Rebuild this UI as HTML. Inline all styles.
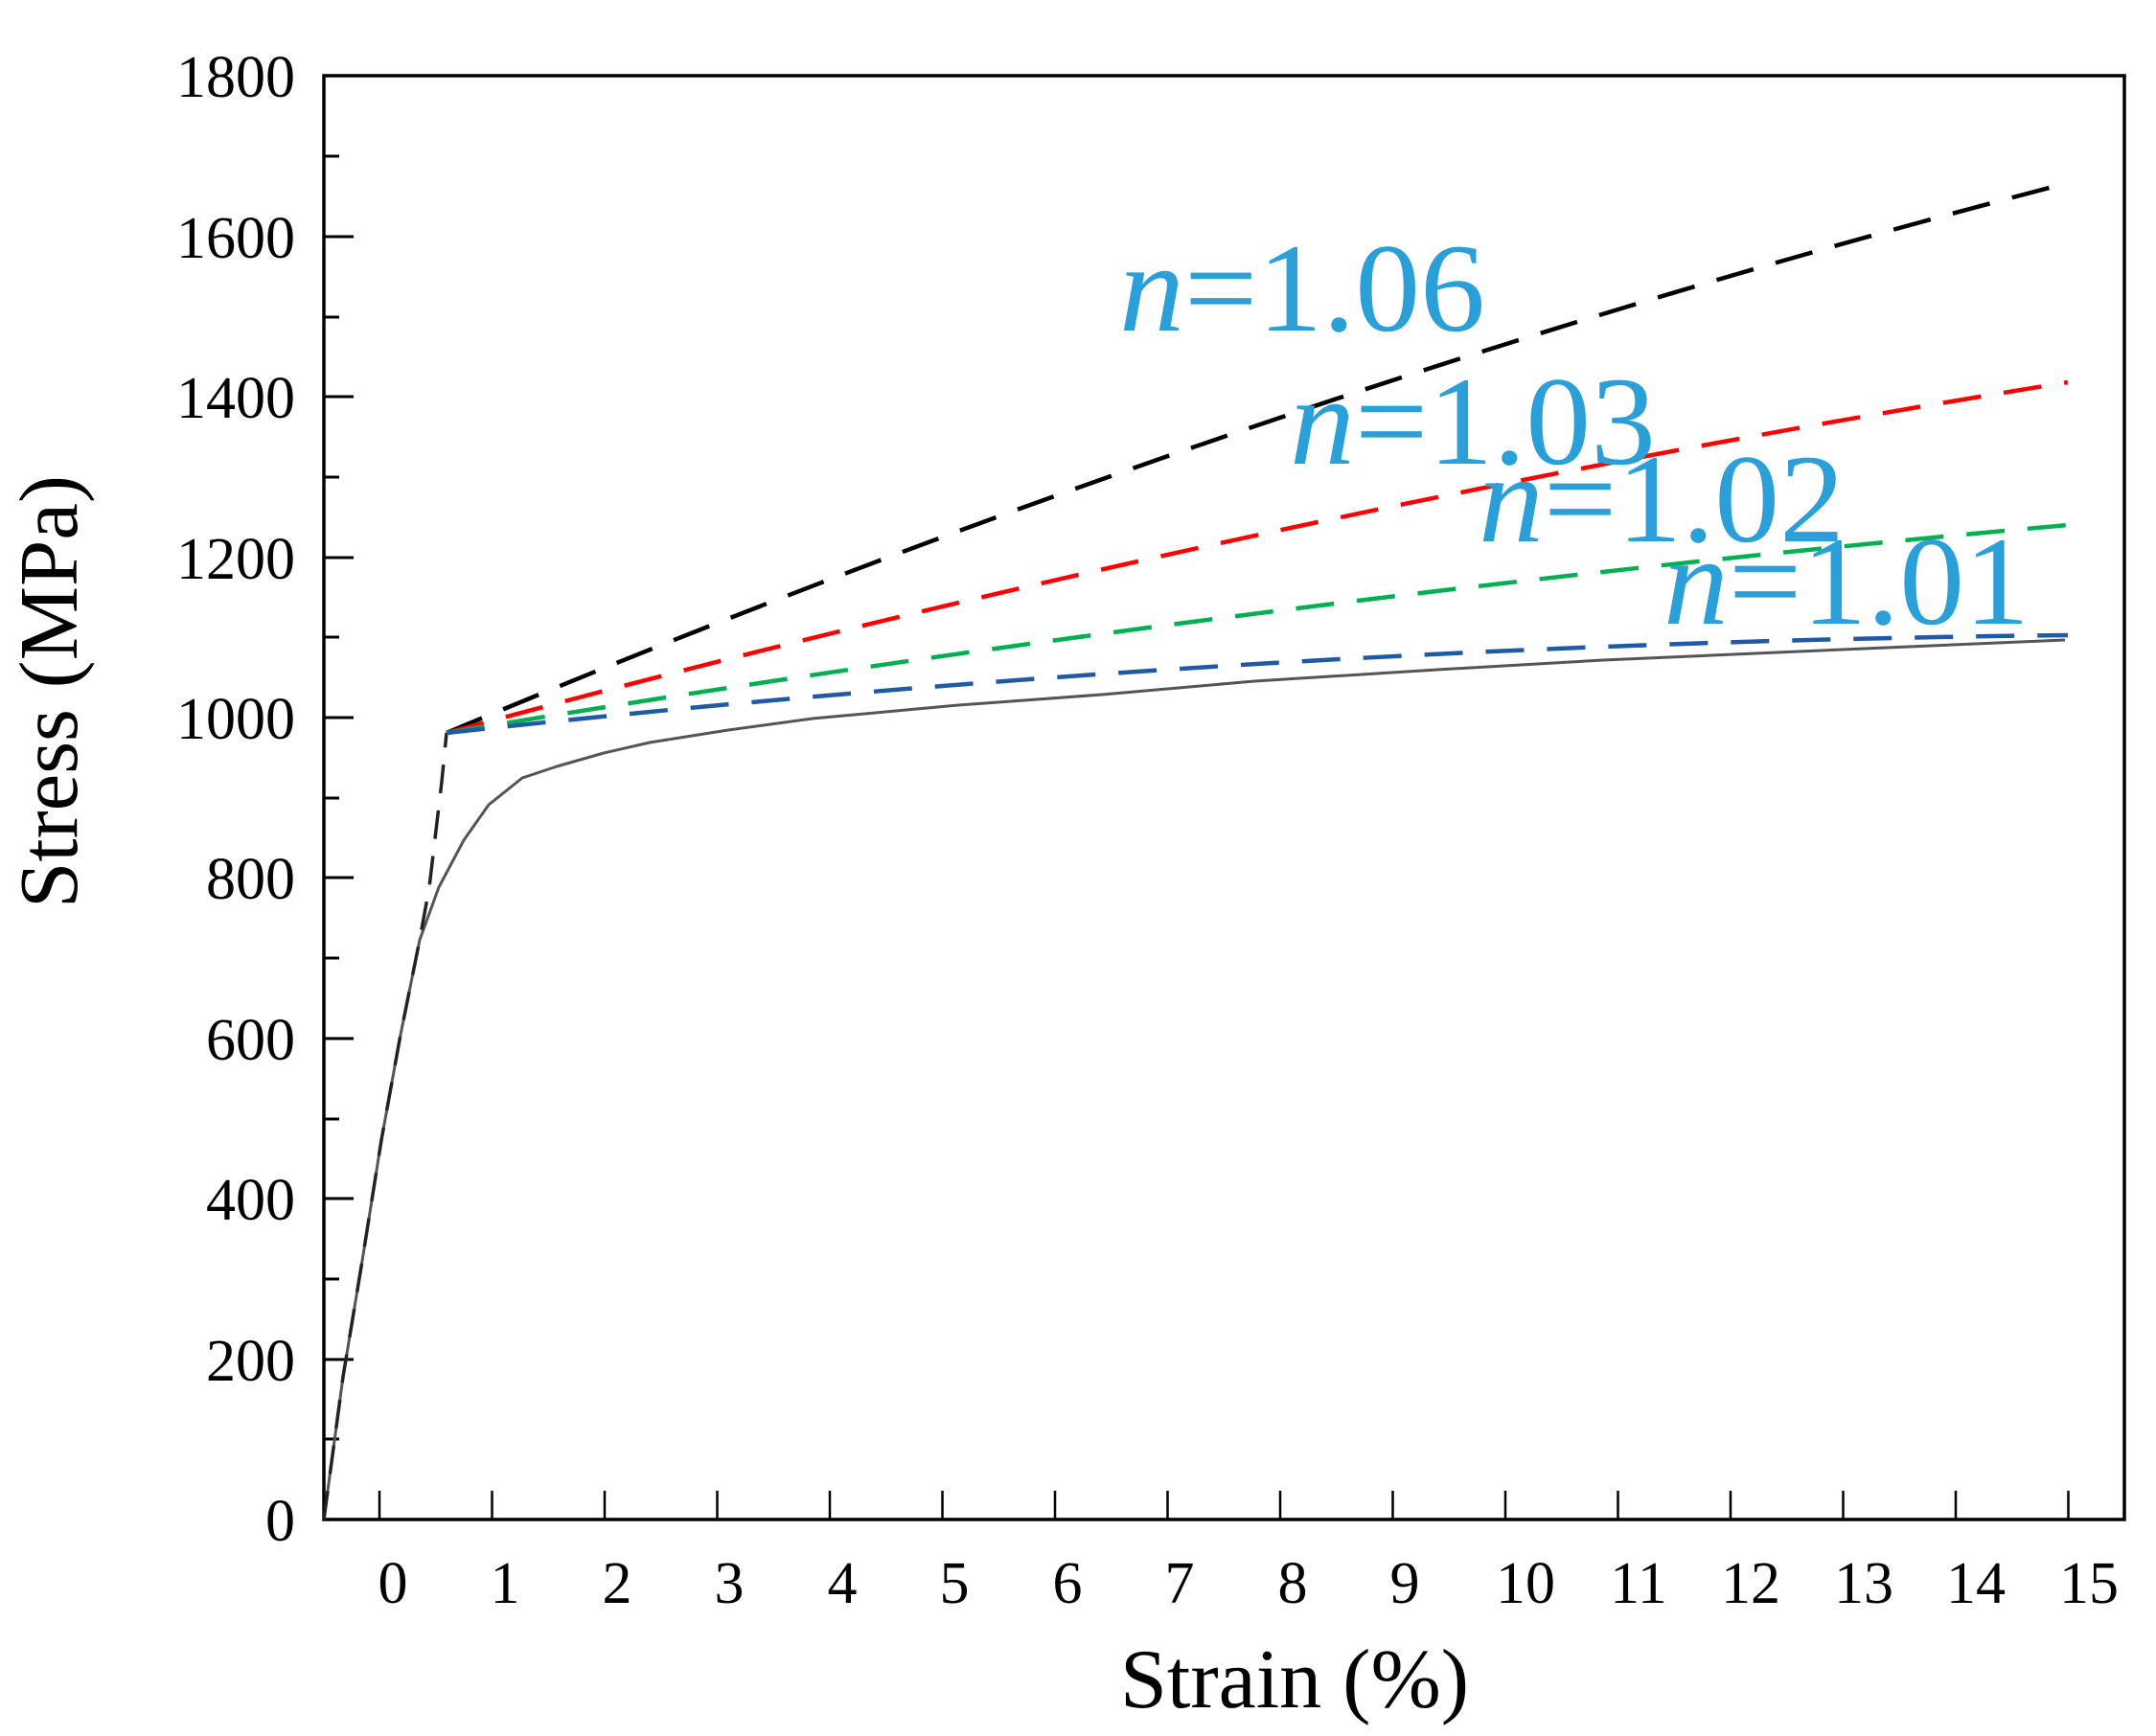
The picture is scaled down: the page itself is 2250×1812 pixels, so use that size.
<!DOCTYPE html>
<html><head><meta charset="utf-8"><style>
html,body{margin:0;padding:0;background:#fff;}
svg{display:block;}
text{font-family:"Liberation Serif",serif;}
</style></head><body>
<svg width="2250" height="1812" viewBox="0 0 2250 1812" xmlns="http://www.w3.org/2000/svg">
<rect x="0" y="0" width="2250" height="1812" fill="#fff"/>
<rect x="338" y="79" width="1879" height="1507" fill="none" stroke="#000" stroke-width="3.5"/>
<g stroke="#000" stroke-width="3">
<line x1="338" y1="1586" x2="369" y2="1586"/>
<line x1="338" y1="1502" x2="354" y2="1502"/>
<line x1="338" y1="1419" x2="369" y2="1419"/>
<line x1="338" y1="1335" x2="354" y2="1335"/>
<line x1="338" y1="1251" x2="369" y2="1251"/>
<line x1="338" y1="1168" x2="354" y2="1168"/>
<line x1="338" y1="1084" x2="369" y2="1084"/>
<line x1="338" y1="1000" x2="354" y2="1000"/>
<line x1="338" y1="916" x2="369" y2="916"/>
<line x1="338" y1="833" x2="354" y2="833"/>
<line x1="338" y1="749" x2="369" y2="749"/>
<line x1="338" y1="665" x2="354" y2="665"/>
<line x1="338" y1="582" x2="369" y2="582"/>
<line x1="338" y1="498" x2="354" y2="498"/>
<line x1="338" y1="414" x2="369" y2="414"/>
<line x1="338" y1="331" x2="354" y2="331"/>
<line x1="338" y1="247" x2="369" y2="247"/>
<line x1="338" y1="163" x2="354" y2="163"/>
</g>
<g stroke="#000" stroke-width="2.5">
<line x1="396" y1="1586" x2="396" y2="1556"/>
<line x1="513.5" y1="1586" x2="513.5" y2="1556"/>
<line x1="631" y1="1586" x2="631" y2="1556"/>
<line x1="748.5" y1="1586" x2="748.5" y2="1556"/>
<line x1="866" y1="1586" x2="866" y2="1556"/>
<line x1="983.5" y1="1586" x2="983.5" y2="1556"/>
<line x1="1101" y1="1586" x2="1101" y2="1556"/>
<line x1="1218.5" y1="1586" x2="1218.5" y2="1556"/>
<line x1="1336" y1="1586" x2="1336" y2="1556"/>
<line x1="1453.5" y1="1586" x2="1453.5" y2="1556"/>
<line x1="1571" y1="1586" x2="1571" y2="1556"/>
<line x1="1688.5" y1="1586" x2="1688.5" y2="1556"/>
<line x1="1806" y1="1586" x2="1806" y2="1556"/>
<line x1="1923.5" y1="1586" x2="1923.5" y2="1556"/>
<line x1="2041" y1="1586" x2="2041" y2="1556"/>
<line x1="2158.5" y1="1586" x2="2158.5" y2="1556"/>
</g>
<g font-size="62" text-anchor="end" fill="#000">
<text x="308" y="1608">0</text>
<text x="308" y="1441">200</text>
<text x="308" y="1273">400</text>
<text x="308" y="1106">600</text>
<text x="308" y="938">800</text>
<text x="308" y="771">1000</text>
<text x="308" y="604">1200</text>
<text x="308" y="436">1400</text>
<text x="308" y="269">1600</text>
<text x="308" y="101">1800</text>
</g>
<g font-size="62" text-anchor="middle" fill="#000">
<text x="410" y="1673">0</text>
<text x="527" y="1673">1</text>
<text x="644" y="1673">2</text>
<text x="761" y="1673">3</text>
<text x="879" y="1673">4</text>
<text x="996" y="1673">5</text>
<text x="1114" y="1673">6</text>
<text x="1231" y="1673">7</text>
<text x="1349" y="1673">8</text>
<text x="1466" y="1673">9</text>
<text x="1592" y="1673">10</text>
<text x="1710" y="1673">11</text>
<text x="1827" y="1673">12</text>
<text x="1945" y="1673">13</text>
<text x="2062" y="1673">14</text>
<text x="2180" y="1673">15</text>
</g>
<text x="1351" y="1782" font-size="88" text-anchor="middle" fill="#000">Strain (%)</text>
<text transform="translate(80,722) rotate(-90)" font-size="87" text-anchor="middle" fill="#000">Stress (MPa)</text>

<polyline fill="none" stroke="#555" stroke-width="3" stroke-linejoin="round" points="338,1586 358,1437 378,1316 398,1190 418,1080 438,981 458,926 484,877 510,840 545,812 581,800 630,786 678,775 760,762 848,750 1000,736 1150,725 1309,711 1500,699 1673,689 1900,679 2155,668"/>
<polyline fill="none" stroke="#222" stroke-width="3.5" stroke-dasharray="30,18" points="338,1586 358,1437 378,1316 398,1190 418,1080 438,981 448,926 461,816 466,765"/>
<path fill="none" stroke="#000" stroke-width="4.5" stroke-dasharray="40,24" d="M466,765 Q1312,410 2158,191"/>
<path fill="none" stroke="#f00" stroke-width="4.5" stroke-dasharray="40,24" d="M466,765 Q1312,535 2158,399"/>
<path fill="none" stroke="#00b050" stroke-width="4.5" stroke-dasharray="40,24" d="M466,765 Q1312,624 2158,548"/>
<path fill="none" stroke="#1f5aa6" stroke-width="4.5" stroke-dasharray="40,24" d="M466,765 Q1312,672 2158,663"/>

<g font-size="132" fill="#2a9fd8">
<text x="1168" y="345" textLength="382" lengthAdjust="spacingAndGlyphs"><tspan font-style="italic">n</tspan>=1.06</text>
<text x="1346" y="484" textLength="382" lengthAdjust="spacingAndGlyphs"><tspan font-style="italic">n</tspan>=1.03</text>
<text x="1543" y="565" textLength="382" lengthAdjust="spacingAndGlyphs"><tspan font-style="italic">n</tspan>=1.02</text>
<text x="1736" y="651" textLength="382" lengthAdjust="spacingAndGlyphs"><tspan font-style="italic">n</tspan>=1.01</text>
</g>
</svg>
</body></html>
